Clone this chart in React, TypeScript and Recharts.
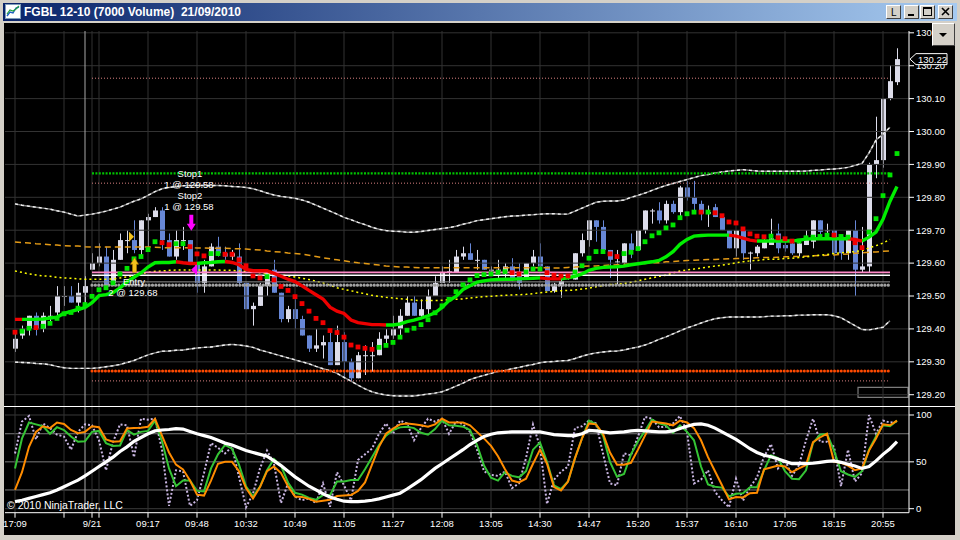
import React from 'react';
import { ComposedChart, Bar, Line, Scatter, XAxis, YAxis, ReferenceLine, ReferenceArea } from 'recharts';

const FONT = "'Liberation Sans', Arial, Helvetica, sans-serif";

// 7000-volume bars: [open, high, low, close]
const ohlc: [number, number, number, number][] = [
  [129.34, 129.39, 129.33, 129.37], [129.38, 129.41, 129.37, 129.40], [129.40, 129.44, 129.38, 129.44], [129.44, 129.45, 129.38, 129.40],
  [129.40, 129.45, 129.39, 129.44], [129.43, 129.47, 129.42, 129.44], [129.45, 129.53, 129.44, 129.50], [129.50, 129.53, 129.47, 129.50],
  [129.50, 129.53, 129.48, 129.48], [129.48, 129.54, 129.45, 129.51], [129.51, 129.56, 129.47, 129.53], [129.58, 129.63, 129.58, 129.60],
  [129.60, 129.66, 129.59, 129.62], [129.62, 129.65, 129.53, 129.53], [129.54, 129.64, 129.53, 129.61], [129.61, 129.69, 129.61, 129.67],
  [129.67, 129.70, 129.63, 129.67], [129.67, 129.73, 129.63, 129.64], [129.64, 129.73, 129.62, 129.73], [129.73, 129.75, 129.65, 129.74],
  [129.74, 129.77, 129.74, 129.76], [129.76, 129.77, 129.64, 129.67], [129.67, 129.69, 129.62, 129.62], [129.62, 129.70, 129.61, 129.67],
  [129.67, 129.71, 129.64, 129.67], [129.67, 129.67, 129.60, 129.60], [129.60, 129.60, 129.51, 129.54], [129.54, 129.61, 129.51, 129.59],
  [129.59, 129.66, 129.59, 129.65], [129.65, 129.68, 129.62, 129.63], [129.63, 129.65, 129.61, 129.62], [129.62, 129.64, 129.61, 129.63],
  [129.62, 129.66, 129.53, 129.54], [129.54, 129.54, 129.46, 129.46], [129.46, 129.48, 129.41, 129.47], [129.47, 129.54, 129.47, 129.53],
  [129.53, 129.58, 129.50, 129.57], [129.58, 129.61, 129.51, 129.51], [129.51, 129.51, 129.42, 129.43], [129.43, 129.47, 129.42, 129.46],
  [129.46, 129.49, 129.40, 129.43], [129.43, 129.44, 129.38, 129.38], [129.38, 129.38, 129.33, 129.34], [129.34, 129.40, 129.33, 129.35],
  [129.35, 129.38, 129.31, 129.36], [129.36, 129.39, 129.29, 129.29], [129.29, 129.41, 129.29, 129.36], [129.36, 129.39, 129.25, 129.30],
  [129.30, 129.31, 129.24, 129.25], [129.25, 129.33, 129.25, 129.32], [129.32, 129.35, 129.26, 129.32], [129.32, 129.36, 129.27, 129.32],
  [129.32, 129.39, 129.32, 129.37], [129.37, 129.40, 129.35, 129.38], [129.38, 129.44, 129.37, 129.40], [129.40, 129.46, 129.38, 129.44],
  [129.44, 129.50, 129.44, 129.48], [129.48, 129.50, 129.44, 129.44], [129.44, 129.49, 129.43, 129.46], [129.46, 129.52, 129.44, 129.50],
  [129.50, 129.56, 129.50, 129.54], [129.54, 129.59, 129.54, 129.57], [129.575, 129.61, 129.54, 129.575], [129.57, 129.64, 129.57, 129.62],
  [129.62, 129.65, 129.61, 129.63], [129.63, 129.66, 129.61, 129.61], [129.61, 129.64, 129.58, 129.61], [129.61, 129.61, 129.58, 129.58],
  [129.58, 129.59, 129.565, 129.58], [129.58, 129.61, 129.555, 129.58], [129.575, 129.60, 129.555, 129.59], [129.59, 129.615, 129.545, 129.55],
  [129.57, 129.60, 129.52, 129.54], [129.55, 129.60, 129.55, 129.60], [129.60, 129.64, 129.59, 129.62], [129.62, 129.66, 129.585, 129.59],
  [129.59, 129.59, 129.515, 129.515], [129.515, 129.54, 129.51, 129.53], [129.53, 129.56, 129.495, 129.545], [129.555, 129.565, 129.55, 129.56],
  [129.55, 129.63, 129.55, 129.63], [129.63, 129.69, 129.62, 129.67], [129.67, 129.73, 129.65, 129.73], [129.73, 129.73, 129.665, 129.71],
  [129.71, 129.73, 129.64, 129.64], [129.64, 129.64, 129.555, 129.61], [129.605, 129.64, 129.535, 129.605], [129.60, 129.66, 129.59, 129.66],
  [129.66, 129.69, 129.615, 129.64], [129.64, 129.70, 129.64, 129.70], [129.70, 129.76, 129.69, 129.76], [129.76, 129.765, 129.72, 129.76],
  [129.76, 129.785, 129.72, 129.73], [129.73, 129.79, 129.72, 129.78], [129.78, 129.79, 129.75, 129.755], [129.755, 129.835, 129.735, 129.83],
  [129.83, 129.85, 129.79, 129.80], [129.80, 129.85, 129.76, 129.78], [129.78, 129.79, 129.73, 129.75], [129.75, 129.775, 129.71, 129.755],
  [129.77, 129.78, 129.74, 129.74], [129.74, 129.74, 129.70, 129.70], [129.70, 129.70, 129.645, 129.645], [129.645, 129.70, 129.62, 129.70],
  [129.70, 129.705, 129.61, 129.63], [129.63, 129.635, 129.58, 129.632], [129.63, 129.655, 129.62, 129.65], [129.645, 129.68, 129.645, 129.665],
  [129.655, 129.735, 129.655, 129.675], [129.69, 129.72, 129.63, 129.645], [129.655, 129.68, 129.635, 129.645], [129.66, 129.67, 129.625, 129.63],
  [129.63, 129.67, 129.62, 129.66], [129.655, 129.70, 129.655, 129.675], [129.665, 129.73, 129.645, 129.73], [129.73, 129.73, 129.68, 129.695],
  [129.70, 129.72, 129.68, 129.70], [129.70, 129.70, 129.61, 129.63], [129.68, 129.68, 129.61, 129.63], [129.63, 129.70, 129.61, 129.70],
  [129.70, 129.73, 129.50, 129.58], [129.58, 129.71, 129.57, 129.59], [129.59, 129.905, 129.57, 129.90], [129.90, 130.045, 129.858, 129.913],
  [129.913, 130.101, 129.89, 130.10], [130.10, 130.202, 130.095, 130.153], [130.15, 130.253, 130.141, 130.22],
];

// thick trend average, coloured by slope runs
const trendMa = [
  129.429, 129.429, 129.429, 129.429, 129.430, 129.433, 129.436, 129.447, 129.453, 129.459,
  129.465, 129.480, 129.501, 129.504, 129.510, 129.525, 129.543, 129.557, 129.570, 129.588,
  129.601, 129.602, 129.602, 129.604, 129.601, 129.599, 129.599, 129.601, 129.602, 129.604,
  129.605, 129.602, 129.595, 129.581, 129.577, 129.577, 129.577, 129.569, 129.560, 129.551,
  129.544, 129.531, 129.517, 129.504, 129.491, 129.466, 129.454, 129.447, 129.427, 129.419,
  129.416, 129.413, 129.413, 129.412, 129.412, 129.415, 129.422, 129.427, 129.433, 129.440,
  129.449, 129.465, 129.486, 129.499, 129.520, 129.531, 129.542, 129.546, 129.549, 129.550,
  129.551, 129.551, 129.552, 129.553, 129.554, 129.555, 129.553, 129.552, 129.552, 129.555,
  129.560, 129.567, 129.578, 129.584, 129.587, 129.588, 129.589, 129.591, 129.595, 129.598,
  129.601, 129.604, 129.608, 129.619, 129.635, 129.657, 129.672, 129.682, 129.684, 129.685,
  129.685, 129.685, 129.685, 129.682, 129.676, 129.670, 129.667, 129.667, 129.667, 129.667,
  129.667, 129.667, 129.670, 129.673, 129.674, 129.674, 129.674, 129.674, 129.674, 129.674,
  129.672, 129.667, 129.679, 129.694, 129.733, 129.788, 129.833,
];
const trendRuns: [string, number][] = [
  ['r', 2], ['g', 22], ['r', 3], ['g', 4], ['r', 23], ['g', 22], ['r', 3], ['g', 24], ['r', 4], ['g', 13], ['r', 2], ['g', 5],
];

// trailing stop squares
const stopDots = [
  129.390, 129.393, 129.402, 129.404, 129.408, 129.417, 129.432, 129.446, 129.450, 129.463,
  129.474, 129.499, 129.519, 129.525, 129.540, 129.567, 129.584, 129.613, 129.620, 129.641,
  129.665, 129.662, 129.656, 129.659, 129.659, 129.650, 129.628, 129.622, 129.629, 129.629,
  129.627, 129.627, 129.610, 129.592, 129.561, 129.555, 129.559, 129.549, 129.529, 129.517,
  129.498, 129.477, 129.454, 129.432, 129.419, 129.395, 129.389, 129.375, 129.351, 129.345,
  129.341, 129.338, 129.344, 129.350, 129.359, 129.375, 129.396, 129.402, 129.413, 129.428,
  129.449, 129.470, 129.490, 129.513, 129.534, 129.549, 129.562, 129.565, 129.567, 129.572,
  129.574, 129.571, 129.567, 129.573, 129.582, 129.582, 129.571, 129.563, 129.561, 129.561,
  129.573, 129.592, 129.615, 129.635, 129.635, 129.628, 129.620, 129.629, 129.633, 129.644,
  129.665, 129.683, 129.692, 129.707, 129.716, 129.738, 129.750, 129.755, 129.755, 129.755,
  129.753, 129.744, 129.725, 129.722, 129.704, 129.689, 129.682, 129.680, 129.682, 129.677,
  129.674, 129.667, 129.667, 129.677, 129.679, 129.681, 129.685, 129.685, 129.681, 129.679,
  129.662, 129.647, 129.694, 129.735, 129.805, 129.868, 129.933,
];
const stopRuns: [string, number][] = [
  ['r', 1], ['g', 2], ['r', 1], ['g', 17], ['r', 2], ['g', 2], ['r', 3], ['g', 2], ['r', 6], ['g', 1], ['r', 15], ['g', 19],
  ['r', 2], ['g', 3], ['r', 4], ['g', 5], ['r', 2], ['g', 11], ['r', 1], ['g', 1], ['r', 8], ['g', 1], ['r', 3], ['g', 5],
  ['r', 1], ['g', 2], ['r', 2], ['g', 5],
];

const upperBand = [
  129.780, 129.776, 129.773, 129.770, 129.767, 129.764, 129.759, 129.755, 129.749, 129.743,
  129.746, 129.749, 129.753, 129.758, 129.764, 129.770, 129.779, 129.788, 129.795, 129.806,
  129.817, 129.826, 129.830, 129.833, 129.835, 129.836, 129.836, 129.836, 129.836, 129.836,
  129.835, 129.833, 129.832, 129.830, 129.826, 129.820, 129.813, 129.807, 129.803, 129.800,
  129.797, 129.792, 129.785, 129.776, 129.767, 129.758, 129.749, 129.739, 129.732, 129.724,
  129.717, 129.709, 129.703, 129.699, 129.697, 129.696, 129.694, 129.694, 129.696, 129.699,
  129.702, 129.705, 129.708, 129.712, 129.718, 129.723, 129.729, 129.732, 129.735, 129.738,
  129.741, 129.743, 129.744, 129.746, 129.747, 129.749, 129.750, 129.750, 129.749, 129.749,
  129.758, 129.767, 129.776, 129.785, 129.788, 129.789, 129.789, 129.792, 129.800, 129.806,
  129.813, 129.821, 129.829, 129.836, 129.842, 129.848, 129.854, 129.860, 129.866, 129.869,
  129.874, 129.877, 129.880, 129.882, 129.884, 129.882, 129.880, 129.879, 129.879, 129.879,
  129.879, 129.879, 129.879, 129.880, 129.882, 129.883, 129.885, 129.886, 129.888, 129.891,
  129.897, 129.903, 129.935, 129.974, 129.992, 130.013, null,
];
const lowerBand = [
  129.299, 129.298, 129.297, 129.295, 129.294, 129.291, 129.286, 129.282, 129.280, 129.280,
  129.280, 129.280, 129.282, 129.285, 129.288, 129.292, 129.298, 129.304, 129.313, 129.321,
  129.327, 129.332, 129.333, 129.335, 129.336, 129.339, 129.342, 129.344, 129.345, 129.348,
  129.351, 129.353, 129.351, 129.348, 129.344, 129.336, 129.330, 129.324, 129.318, 129.312,
  129.306, 129.300, 129.294, 129.286, 129.279, 129.273, 129.265, 129.253, 129.241, 129.229,
  129.218, 129.209, 129.203, 129.199, 129.197, 129.196, 129.196, 129.196, 129.199, 129.202,
  129.205, 129.209, 129.217, 129.226, 129.235, 129.246, 129.253, 129.259, 129.265, 129.271,
  129.274, 129.279, 129.283, 129.288, 129.292, 129.297, 129.300, 129.301, 129.303, 129.304,
  129.310, 129.317, 129.323, 129.327, 129.330, 129.332, 129.333, 129.336, 129.341, 129.345,
  129.351, 129.359, 129.368, 129.376, 129.385, 129.394, 129.403, 129.410, 129.418, 129.425,
  129.431, 129.434, 129.436, 129.436, 129.436, 129.436, 129.436, 129.437, 129.439, 129.439,
  129.440, 129.440, 129.442, 129.442, 129.443, 129.443, 129.443, 129.440, 129.434, 129.422,
  129.410, 129.398, 129.397, 129.401, 129.405, 129.425, null,
];
const slowMa = [
  129.664, 129.662, 129.661, 129.659, 129.658, 129.656, 129.655, 129.653, 129.652, 129.652,
  129.650, 129.649, 129.649, 129.649, 129.649, 129.649, 129.649, 129.649, 129.649, 129.649,
  129.648, 129.647, 129.647, 129.647, 129.647, 129.647, 129.646, 129.646, 129.645, 129.645,
  129.645, 129.644, 129.644, 129.643, 129.641, 129.640, 129.637, 129.635, 129.634, 129.631,
  129.629, 129.627, 129.624, 129.620, 129.616, 129.613, 129.610, 129.607, 129.604, 129.601,
  129.599, 129.596, 129.594, 129.591, 129.590, 129.588, 129.588, 129.587, 129.586, 129.586,
  129.586, 129.586, 129.586, 129.586, 129.586, 129.586, 129.586, 129.586, 129.586, 129.586,
  129.586, 129.586, 129.586, 129.586, 129.586, 129.586, 129.586, 129.585, 129.585, 129.587,
  129.588, 129.590, 129.591, 129.591, 129.593, 129.594, 129.595, 129.596, 129.598, 129.598,
  129.599, 129.601, 129.601, 129.604, 129.605, 129.607, 129.608, 129.609, 129.610, 129.611,
  129.611, 129.612, 129.613, 129.614, 129.614, 129.615, 129.616, 129.617, 129.617, 129.618,
  129.619, 129.620, 129.620, 129.621, 129.622, 129.623, 129.624, 129.625, 129.627, 129.628,
  129.630, 129.631, 129.633, 129.634, 129.636, 129.637, null,
];
const midMa = [
  129.576, 129.572, 129.567, 129.564, 129.561, 129.560, 129.557, 129.555, 129.554, 129.552,
  129.551, 129.551, 129.551, 129.551, 129.552, 129.555, 129.558, 129.563, 129.567, 129.572,
  129.575, 129.576, 129.578, 129.579, 129.579, 129.579, 129.579, 129.579, 129.579, 129.579,
  129.578, 129.578, 129.576, 129.575, 129.573, 129.571, 129.569, 129.567, 129.564, 129.561,
  129.558, 129.554, 129.550, 129.545, 129.540, 129.533, 129.525, 129.520, 129.516, 129.511,
  129.507, 129.502, 129.499, 129.496, 129.494, 129.492, 129.490, 129.487, 129.486, 129.486,
  129.486, 129.487, 129.489, 129.490, 129.491, 129.494, 129.496, 129.498, 129.499, 129.501,
  129.502, 129.503, 129.504, 129.505, 129.507, 129.510, 129.512, 129.514, 129.516, 129.517,
  129.518, 129.521, 129.524, 129.528, 129.532, 129.535, 129.536, 129.538, 129.542, 129.546,
  129.551, 129.555, 129.560, 129.563, 129.570, 129.576, 129.579, 129.582, 129.585, 129.588,
  129.591, 129.594, 129.597, 129.601, 129.604, 129.607, 129.608, 129.611, 129.612, 129.612,
  129.614, 129.615, 129.617, 129.619, 129.622, 129.624, 129.626, 129.629, 129.631, 129.633,
  129.635, 129.638, 129.646, 129.653, 129.661, 129.672, null,
];

// horizontal drawing levels (start / end bar)
const levelFrom = 11;
const levelTo = 125;
const targetLevel = 129.873;
const stopTickLevel = 129.843;
const highTickLevel = 130.162;
const pinkLevel = 129.572;
const whiteLevel = 129.563;
const greyLevel = 129.543;
const greyDotLevel = 129.533;
const orangeDotLevel = 129.272;
const lowTickLevel = 129.242;

const trades = [
  { i: 17, price: 129.68, kind: 'entryMark', lines: [] as string[] },
  { i: 17, price: 129.572, kind: 'entryArrow', lines: ['Entry', '2 @ 129.68'] },
  { i: 25, price: 129.58, kind: 'exitMark', lines: [] as string[] },
  { i: 25, price: 129.698, kind: 'stopArrow', lines: ['Stop1', '1 @ 129.58', 'Stop2', '1 @ 129.58'] },
];

// oscillator panel
const stochRaw = [
  59, 93, 99, 74, 91, 86, 79, 77, 63, 82, 90, 89, 73, 41, 71, 90, 89, 55, 96, 95,
  96, 63, 3, 41, 40, 3, 9, 38, 70, 65, 59, 66, 34, 1.5, 16, 43, 62, 48, 6, 27,
  13, 9, 11, 6, 27, 2, 39, 25, 9, 52, 58, 64, 80, 91, 80, 94, 91, 73, 86, 96,
  93, 96, 80, 93, 90, 82, 63, 40, 36, 35, 39.5, 22, 27, 54, 90, 66, 5, 31, 39.5, 45,
  86, 88, 94, 91, 59, 27, 25, 59, 57, 77, 98, 96, 87, 87.5, 91, 99, 82, 27, 31, 41,
  18, 9, 1.5, 32, 8.6, 23, 33.5, 55.5, 69, 43, 52, 35, 46.5, 73, 96, 71.5, 71.5, 66, 24, 63,
  29, 38, 100, 80, 94, 92, 93,
];
const stochK = [
  43, 75, 92, 90, 88, 80, 87, 84, 77, 71.5, 72, 82, 83, 70, 67, 67.5, 84, 79, 82, 83,
  94, 72, 43, 24, 30, 30, 19, 18.5, 43, 58, 68, 64, 47, 24, 13, 23.5, 41, 53, 46, 28,
  17, 15, 11.5, 9.5, 14.5, 14.5, 29, 29, 30.5, 30.5, 42, 55, 68, 78, 84, 86.8, 87.5, 86, 81, 79,
  85, 94, 89, 88.5, 87.5, 84, 68, 46, 33, 30, 39, 35, 33.5, 40, 63, 70.5, 50, 25, 21, 29,
  54, 75, 94, 90, 78, 50, 34, 37, 58, 72, 83, 95, 91, 89, 81, 89, 82, 73, 45, 26,
  23.5, 22.5, 13, 16, 16.5, 23, 23, 41, 57, 54, 40, 32, 31.5, 41, 70, 79, 80, 62, 40, 36.5,
  34, 40, 63, 77, 89, 88, 94,
];
const stochD = [
  20, 39, 66, 82, 88, 86, 92, 90.5, 84, 80.5, 82, 88, 87, 74, 71.5, 72, 85.5, 86, 86.5, 87.5,
  96, 78, 60, 47, 42, 30, 15, 14, 30, 48, 50, 50, 40, 22, 11, 23, 40, 45, 38, 24,
  13, 12.5, 10.5, 7.5, 8.5, 9.5, 13.5, 14, 14.5, 19, 28, 47, 66, 80, 85.5, 90, 91, 90, 89, 87.5,
  90, 96, 92, 92, 92, 89, 82, 75, 67, 56, 42, 30, 28, 32, 48, 63, 48, 23, 19.5, 29,
  54, 75, 91, 90, 80, 60, 47, 47, 49, 63, 78, 93, 92, 91, 89, 94, 92, 86, 73, 55,
  40, 25, 10, 12.5, 12, 16.5, 17, 42, 44, 46, 45, 39, 43, 46.5, 71, 76, 80, 50, 49, 46,
  41, 43, 62, 75, 90, 89, 94,
];
const stochSlow = [
  7.5, 9, 11, 13, 15, 17, 20, 23.5, 27, 30.5, 35, 40, 45, 50, 55, 61, 66, 72, 76, 80,
  83, 84, 84.5, 85.5, 85, 82.5, 80, 78, 76, 73, 70, 68, 65, 62, 60, 58, 56, 51, 46, 40,
  34, 29, 24, 20, 16, 12.5, 10, 8, 7.5, 7.5, 8, 9, 10.5, 12.5, 14.5, 16.5, 21, 26, 31, 37,
  43, 48, 53, 58, 63, 68.5, 73, 77, 79.5, 81, 81.5, 82, 82, 82, 82, 82, 80.5, 79, 78.5, 78,
  78, 80, 83.5, 83, 82, 81, 81.5, 82, 83, 83.5, 83, 82.5, 82, 82, 83, 85.5, 88, 90, 90.5, 89,
  86, 82, 78, 74, 69, 64, 60, 57, 55.5, 53, 50.5, 48, 48, 48, 48.5, 49.5, 50.5, 51, 49.5, 47.5,
  45.5, 43, 45, 51, 58, 64, 71.5,
];

const priceTicks = [129.2, 129.3, 129.4, 129.5, 129.6, 129.7, 129.8, 129.9, 130.0, 130.1, 130.2, 130.3];
const oscTicks = [0, 50, 100];
const oscGuides = [20, 50, 80];
const timeTicks = [0, 11, 19, 26, 33, 40, 47, 54, 61, 68, 75, 82, 89, 96, 103, 110, 117, 124];
const timeLabels = ['17:09', '9/21', '09:17', '09:48', '10:32', '10:49', '11:05', '11:27', '12:08', '13:05', '14:30', '14:47', '15:20', '15:37', '16:10', '17:05', '18:15', '20:55'];
const blankTicks = [7, 12];
const sessionBreak = 10;

const expand = (runs: [string, number][]) => runs.flatMap(([c, n]) => Array.from({ length: n }, () => c));
const trendCol = expand(trendRuns);
const stopCol = expand(stopRuns);

const bars = ohlc.map(([o, h, l, c], i) => ({
  i, o, h, l, c,
  maUp: trendCol[i] === 'g' || trendCol[i + 1] === 'g' ? trendMa[i] : null,
  maDn: trendCol[i] === 'r' || trendCol[i + 1] === 'r' ? trendMa[i] : null,
  upper: upperBand[i],
  lower: lowerBand[i],
  slow: slowMa[i],
  mid: midMa[i],
}));
const dots = stopDots.map((v, i) => ({ i, v, col: stopCol[i] }));
const osc = stochRaw.map((r, i) => ({ i, r, k: stochK[i], d: stochD[i], s: stochSlow[i] }));
const lastClose = ohlc[ohlc.length - 1][3];
const allTimeTicks = [...timeTicks, ...blankTicks].sort((a, b) => a - b);

const xDomain: [number, number] = [-1.4286, 127.714];
const priceDomain: [number, number] = [129.1657, 130.3055];
const oscDomain: [number, number] = [-4.27, 109.6];

const UP = '#dcdcea';
const DOWN = '#6787d6';
const GRID = '#333333';

function Candle(props: any) {
  const { x, y, width, height, payload } = props;
  if (x == null || y == null || !payload) return null;
  const top = Math.min(y, y + height);
  const span = Math.abs(height);
  const k = span / (payload.h - payload.l);
  const yo = top + (payload.h - payload.o) * k;
  const yc = top + (payload.h - payload.c) * k;
  const col = payload.c >= payload.o ? UP : DOWN;
  const cx = Math.round(x + width / 2) + 0.5;
  return (
    <g>
      <line x1={cx} x2={cx} y1={top} y2={top + span} stroke={col} strokeWidth={1} />
      <rect x={cx - 2.5} y={Math.min(yo, yc)} width={5} height={Math.max(Math.abs(yc - yo), 1)} fill={col} />
    </g>
  );
}

function StopDot(props: any) {
  const { cx, cy, payload } = props;
  if (cx == null || cy == null) return null;
  return <rect x={cx - 2.4} y={cy - 2.4} width={4.8} height={4.8} fill={payload.col === 'g' ? '#00e400' : '#f20000'} />;
}

function TradeMark(props: any) {
  const { cx, cy, payload } = props;
  if (cx == null || cy == null) return null;
  const t = { fill: '#ffffff', fontSize: 9.5, fontFamily: FONT, textAnchor: 'middle' as const, dy: '0.35em' };
  const ls: string[] = payload.lines;
  if (payload.kind === 'entryMark') {
    return <polygon points={`${cx},${cy} ${cx - 5},${cy - 5} ${cx - 5},${cy + 5}`} fill="#f4c21c" />;
  }
  if (payload.kind === 'exitMark') {
    return <polygon points={`${cx + 1},${cy} ${cx + 7},${cy - 5.5} ${cx + 7},${cy + 5.5}`} fill="#ff00ff" />;
  }
  if (payload.kind === 'entryArrow') {
    const a = cx + 0.5;
    return (
      <g>
        <polygon
          points={`${a},${cy - 14.6} ${a + 4},${cy - 8} ${a + 2},${cy - 8} ${a + 2},${cy} ${a - 2},${cy} ${a - 2},${cy - 8} ${a - 4},${cy - 8}`}
          fill="#f4c21c" stroke="#b57a00" strokeWidth={0.6}
        />
        <text x={cx} y={cy + 9.5} {...t}>{ls[0]}</text>
        <text x={cx - 1} y={cy + 20.5} {...t}>{ls[1]}</text>
      </g>
    );
  }
  const a = cx + 1.3;
  return (
    <g>
      <polygon
        points={`${a},${cy} ${a + 4.5},${cy - 7} ${a + 2},${cy - 7} ${a + 2},${cy - 16} ${a - 2},${cy - 16} ${a - 2},${cy - 7} ${a - 4.5},${cy - 7}`}
        fill="#ff00ff"
      />
      <text x={cx} y={cy - 57} {...t}>{ls[0]}</text>
      <text x={cx - 1} y={cy - 46} {...t}>{ls[1]}</text>
      <text x={cx} y={cy - 35} {...t}>{ls[2]}</text>
      <text x={cx - 1} y={cy - 24.5} {...t}>{ls[3]}</text>
    </g>
  );
}

function PriceTag(props: any) {
  const { viewBox, txt } = props;
  if (!viewBox) return null;
  const x0 = viewBox.x + viewBox.width + 1;
  const y0 = viewBox.y;
  const pts = `${x0},${y0} ${x0 + 6},${y0 - 5.5} ${x0 + 37},${y0 - 5.5} ${x0 + 37},${y0 + 5.5} ${x0 + 6},${y0 + 5.5}`;
  return (
    <g>
      <polygon points={pts} fill="#000" stroke="#fff" strokeWidth={1} />
      <text x={x0 + 8} y={y0} dy="0.36em" fill="#fff" fontSize={9.5} fontFamily={FONT}>{txt}</text>
    </g>
  );
}

const tickStyle = { fill: '#ffffff', fontSize: 9.5, fontFamily: FONT };

function PriceChart() {
  return (
    <ComposedChart width={960} height={540} data={bars} margin={{ top: 31, right: 5, bottom: 134, left: 5 }}>
      <XAxis type="number" dataKey="i" domain={xDomain} allowDataOverflow hide />
      <YAxis
        orientation="right" type="number" domain={priceDomain} allowDataOverflow ticks={priceTicks} interval={0}
        tickFormatter={(v: number) => v.toFixed(2)} width={46} tickSize={5} tickMargin={2}
        axisLine={{ stroke: '#ffffff' }} tickLine={{ stroke: '#ffffff' }} tick={tickStyle}
      />
      {priceTicks.map((p) => <ReferenceLine key={'h' + p} y={p} stroke={GRID} />)}
      {allTimeTicks.map((b) => <ReferenceLine key={'v' + b} x={b} stroke={GRID} />)}
      <ReferenceLine x={sessionBreak} stroke="#a8a8a8" />

      <Line dataKey="upper" stroke="#858585" strokeWidth={1.4} dot={false} activeDot={false} isAnimationActive={false} />
      <Line dataKey="upper" stroke="#f2f2f2" strokeWidth={1.4} strokeDasharray="3 3" dot={false} activeDot={false} isAnimationActive={false} />
      <Line dataKey="lower" stroke="#858585" strokeWidth={1.4} dot={false} activeDot={false} isAnimationActive={false} />
      <Line dataKey="lower" stroke="#f2f2f2" strokeWidth={1.4} strokeDasharray="3 3" dot={false} activeDot={false} isAnimationActive={false} />
      <Line dataKey="slow" stroke="#e39a16" strokeWidth={1.5} strokeDasharray="6 4" dot={false} activeDot={false} isAnimationActive={false} />
      <Line dataKey="mid" stroke="#ffff00" strokeWidth={1.5} strokeDasharray="2 3" dot={false} activeDot={false} isAnimationActive={false} />

      <ReferenceArea x1={120.43} x2={127.57} y1={129.192} y2={129.2225} fill="none" stroke="#7c7c7c" strokeWidth={1.2} />

      <Bar dataKey={(d: any) => [d.l, d.h]} barSize={5} shape={<Candle />} isAnimationActive={false} />

      <ReferenceLine segment={[{ x: levelFrom, y: highTickLevel }, { x: levelTo, y: highTickLevel }]} stroke="#d98080" strokeDasharray="1 2" />
      <ReferenceLine segment={[{ x: levelFrom, y: targetLevel }, { x: levelTo, y: targetLevel }]} stroke="#00c400" strokeWidth={2.2} strokeDasharray="2 1.4" />
      <ReferenceLine segment={[{ x: levelFrom, y: stopTickLevel }, { x: levelTo, y: stopTickLevel }]} stroke="#d98080" strokeDasharray="1 2" />
      <ReferenceLine segment={[{ x: levelFrom, y: pinkLevel }, { x: levelTo, y: pinkLevel }]} stroke="#ff88c8" strokeWidth={1.6} />
      <ReferenceLine segment={[{ x: levelFrom, y: whiteLevel }, { x: levelTo, y: whiteLevel }]} stroke="#ffffff" strokeWidth={1.5} />
      <ReferenceLine segment={[{ x: levelFrom, y: greyLevel }, { x: levelTo, y: greyLevel }]} stroke="#8e8e8e" strokeWidth={1} />
      <ReferenceLine segment={[{ x: levelFrom, y: greyDotLevel }, { x: levelTo, y: greyDotLevel }]} stroke="#a2a2a2" strokeWidth={3.2} strokeDasharray="0.01 3.35" strokeLinecap="round" />
      <ReferenceLine segment={[{ x: levelFrom, y: orangeDotLevel }, { x: levelTo, y: orangeDotLevel }]} stroke="#ff4a00" strokeWidth={3} strokeDasharray="0.01 3.35" strokeLinecap="round" />
      <ReferenceLine segment={[{ x: levelFrom, y: lowTickLevel }, { x: levelTo, y: lowTickLevel }]} stroke="#d98080" strokeDasharray="1 2" />

      <Line dataKey="maUp" stroke="#00ee00" strokeWidth={3.4} dot={false} activeDot={false} isAnimationActive={false} />
      <Line dataKey="maDn" stroke="#ee0000" strokeWidth={3.4} dot={false} activeDot={false} isAnimationActive={false} />
      <Scatter data={dots} dataKey="v" shape={<StopDot />} isAnimationActive={false} />
      <Scatter data={trades} dataKey="price" shape={<TradeMark />} isAnimationActive={false} />
    </ComposedChart>
  );
}

// last-price tag, drawn in its own layer so it sits above the price axis labels
function PriceTagLayer() {
  return (
    <ComposedChart width={960} height={540} data={bars} margin={{ top: 31, right: 51, bottom: 134, left: 5 }}>
      <XAxis type="number" dataKey="i" domain={xDomain} allowDataOverflow hide />
      <YAxis type="number" domain={priceDomain} allowDataOverflow hide />
      <ReferenceLine y={lastClose} stroke="none" label={<PriceTag txt={lastClose.toFixed(2)} />} />
    </ComposedChart>
  );
}

function OscChart() {
  return (
    <ComposedChart width={960} height={540} data={osc} margin={{ top: 406, right: 5, bottom: 7.3, left: 5 }}>
      <XAxis
        type="number" dataKey="i" domain={xDomain} allowDataOverflow ticks={allTimeTicks} interval={0} height={20}
        tickFormatter={(v: number) => { const k = timeTicks.indexOf(v); return k >= 0 ? timeLabels[k] : ''; }}
        tickSize={5} tickMargin={3} axisLine={{ stroke: '#ffffff' }} tickLine={{ stroke: '#ffffff' }} tick={tickStyle}
      />
      <YAxis
        orientation="right" type="number" domain={oscDomain} allowDataOverflow ticks={oscTicks} interval={0} width={46}
        tickSize={5} tickMargin={2} axisLine={{ stroke: '#ffffff' }} tickLine={{ stroke: '#ffffff' }} tick={tickStyle}
      />
      <ReferenceLine y={100} stroke="#3a3a3a" />
      <ReferenceLine y={0} stroke="#3a3a3a" />
      {oscGuides.map((g) => <ReferenceLine key={'g' + g} y={g} stroke="#7a7a7a" />)}
      {allTimeTicks.map((b) => <ReferenceLine key={'v' + b} x={b} stroke={GRID} />)}
      <ReferenceLine x={sessionBreak} stroke="#a8a8a8" />
      <Line dataKey="r" stroke="#c9b6e2" strokeWidth={2} strokeDasharray="2 2" dot={false} activeDot={false} isAnimationActive={false} />
      <Line dataKey="k" stroke="#35c435" strokeWidth={2} dot={false} activeDot={false} isAnimationActive={false} />
      <Line dataKey="d" stroke="#ff8c00" strokeWidth={2} dot={false} activeDot={false} isAnimationActive={false} />
      <Line dataKey="s" stroke="#ffffff" strokeWidth={3.2} dot={false} activeDot={false} isAnimationActive={false} />
    </ComposedChart>
  );
}

const bevel = {
  position: 'absolute' as const,
  background: '#d4d0c8',
  borderStyle: 'solid',
  borderWidth: 1,
  borderColor: '#ffffff #404040 #404040 #ffffff',
  boxSizing: 'border-box' as const,
};

function WinButton({ left, children }: { left: number; children: React.ReactNode }) {
  return (
    <div style={{ ...bevel, left, top: 5, width: 15, height: 14 }}>
      <svg width={13} height={12} style={{ position: 'absolute', left: 0, top: 0 }}>{children}</svg>
    </div>
  );
}

export default function App() {
  return (
    <div style={{ position: 'absolute', left: 0, top: 0, width: 960, height: 540, background: '#d4d0c8', overflow: 'hidden', fontFamily: FONT }}>
      <div style={{ position: 'absolute', left: 3, top: 3, width: 954, height: 18, background: 'linear-gradient(to right, #0a246a, #a6caf0)' }} />
      <svg width={16} height={15} style={{ position: 'absolute', left: 5, top: 4 }}>
        <rect x={0.5} y={0.5} width={15} height={14} fill="#ffffff" stroke="#7f9db9" />
        <polyline points="2,12 5,8 8,9 11,4 14,3" fill="none" stroke="#2060c0" strokeWidth={1.4} />
        <polyline points="2,10 5,6 8,7 11,5 14,2" fill="none" stroke="#20a040" strokeWidth={1.2} />
      </svg>
      <div style={{ position: 'absolute', left: 24, top: 4, color: '#ffffff', fontWeight: 'bold', fontSize: 12, lineHeight: '16px', whiteSpace: 'pre' }}>
        FGBL 12-10 (7000 Volume)  21/09/2010
      </div>
      <WinButton left={886}>
        <text x={4} y={10} fontSize={10} fontFamily={FONT} fill="#000">L</text>
      </WinButton>
      <WinButton left={904}>
        <rect x={3} y={8} width={6} height={2} fill="#000" />
      </WinButton>
      <WinButton left={920}>
        <rect x={2.5} y={1.5} width={8} height={8} fill="none" stroke="#000" />
        <rect x={2} y={1} width={9} height={2} fill="#000" />
      </WinButton>
      <WinButton left={938}>
        <path d="M3,2 L10,9 M10,2 L3,9" stroke="#000" strokeWidth={1.6} />
      </WinButton>

      <div style={{ position: 'absolute', left: 4, top: 23, width: 951, height: 512, background: '#000000' }} />
      <div style={{ position: 'absolute', left: 0, top: 0 }}><PriceChart /></div>
      <div style={{ position: 'absolute', left: 0, top: 0 }}><OscChart /></div>
      <div style={{ position: 'absolute', left: 0, top: 0 }}><PriceTagLayer /></div>
      <div style={{ position: 'absolute', left: 4, top: 406, width: 951, height: 1, background: '#ffffff' }} />
      <div style={{ position: 'absolute', left: 7, top: 499, color: '#ffffff', fontSize: 10.5, lineHeight: '12px', whiteSpace: 'pre' }}>
        © 2010 NinjaTrader, LLC
      </div>
      <div style={{ ...bevel, left: 932, top: 23, width: 23, height: 23 }}>
        <svg width={21} height={21} style={{ position: 'absolute', left: 0, top: 0 }}>
          <polygon points="6,9 14,9 10,13" fill="#000" />
        </svg>
      </div>
    </div>
  );
}
